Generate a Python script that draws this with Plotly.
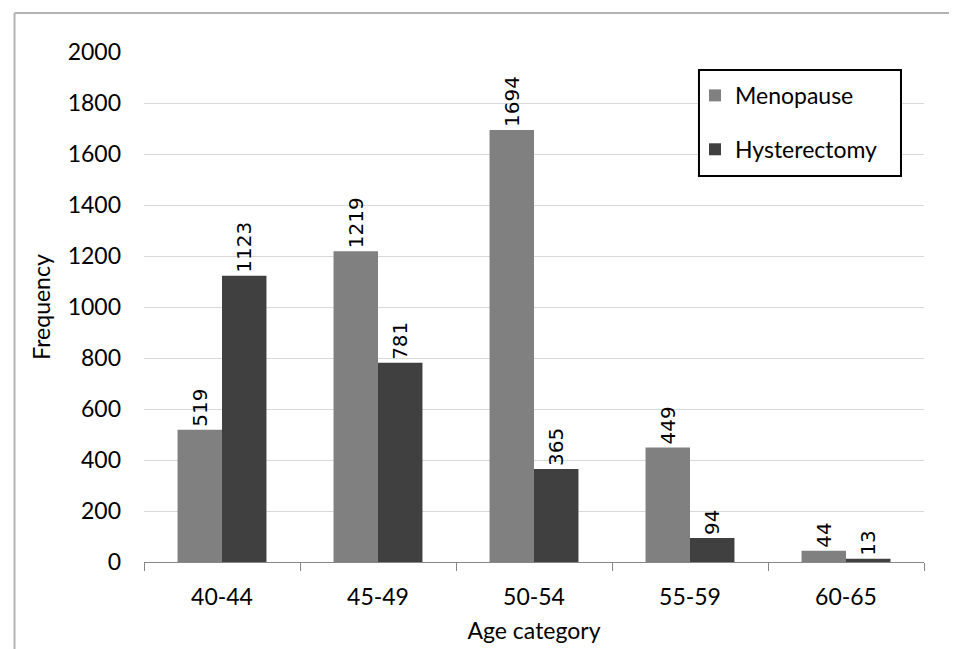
import plotly.graph_objects as go

categories = ["40-44", "45-49", "50-54", "55-59", "60-65"]
menopause = [519, 1219, 1694, 449, 44]
hysterectomy = [1123, 781, 365, 94, 13]
y_ticks = list(range(0, 2001, 200))

FONT = "Lato"

fig = go.Figure()
fig.add_trace(go.Bar(
    x=categories, y=menopause, name="Menopause",
    marker=dict(color="#808080", line=dict(width=0)),
    texttemplate="%{y}", textposition="outside", textangle=-90,
    constraintext="none", cliponaxis=False,
    textfont=dict(family="DejaVu Sans", size=20, color="#000000"),
    legendgroup="a",
))
fig.add_trace(go.Bar(
    x=categories, y=hysterectomy, name="Hysterectomy",
    marker=dict(color="#404040", line=dict(width=0)),
    texttemplate="%{y}", textposition="outside", textangle=-90,
    constraintext="none", cliponaxis=False,
    textfont=dict(family="DejaVu Sans", size=20, color="#000000"),
    legendgroup="b",
))

fig.update_layout(
    width=957, height=649,
    margin=dict(l=136, r=41, t=44, b=95, autoexpand=False),
    paper_bgcolor="white", plot_bgcolor="white",
    barmode="group", bargap=0.43, bargroupgap=0,
    font=dict(family=FONT, size=23, color="#000000"),
    showlegend=True,
    legend=dict(
        x=0.7064, y=0.957, xanchor="left", yanchor="top",
        borderwidth=0, bgcolor="rgba(0,0,0,0)",
        font=dict(family=FONT, size=23, color="#000000"),
        tracegroupgap=21, traceorder="grouped",
    ),
    xaxis=dict(
        showline=True, linecolor="#868686", linewidth=1,
        ticks="outside", tickson="boundaries", ticklen=8, tickcolor="#868686",
        showgrid=False, ticklabelstandoff=14,
        title=dict(text="Age category", standoff=14,
                   font=dict(family=FONT, size=23)),
    ),
    yaxis=dict(
        range=[0, 2000], tickvals=y_ticks, showline=False,
        showgrid=True, gridcolor="#d9d9d9", gridwidth=1,
        zeroline=False, ticks="", ticklabelstandoff=22,
        title=dict(text="Frequency", standoff=10,
                   font=dict(family=FONT, size=23)),
    ),
    shapes=[
        dict(type="rect", xref="paper", yref="paper",
             x0=0.7115, x1=0.9705, y0=0.7569, y1=0.9647,
             fillcolor="white", line=dict(color="#000000", width=2),
             layer="above"),
        dict(type="line", xref="paper", yref="paper",
             x0=-0.1660, x1=-0.1660, y0=1.0765, y1=-0.20,
             line=dict(color="#b3b3b3", width=2)),
        dict(type="line", xref="paper", yref="paper",
             x0=-0.1660, x1=1.06, y0=1.0765, y1=1.0765,
             line=dict(color="#b3b3b3", width=2)),
    ],
)

fig.write_html("out.html")
